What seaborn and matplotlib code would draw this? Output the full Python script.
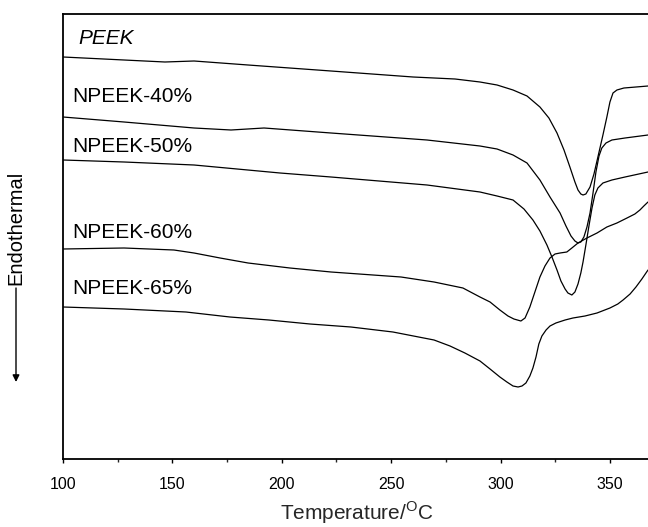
import numpy as np
import pandas as pd
import matplotlib
matplotlib.use("Agg")
import matplotlib.pyplot as plt
import seaborn as sns
from matplotlib.ticker import MultipleLocator

# ---- data (temperature in degC, heat flow in arbitrary offset units) ----
peek_T = [100.0, 127.9, 146.6, 159.9, 184.6, 222.5, 260.0, 279.2, 290.6, 298.4, 305.7,
          312.1, 318.0, 322.1, 325.8, 329.0, 331.7, 334.0, 335.4, 336.7, 337.7, 339.0,
          340.9, 342.7, 344.5, 346.8, 348.6, 350.0, 351.4, 353.2, 356.4, 367.4]
peek_y = [40.2, 39.9, 39.7, 39.8, 39.4, 38.8, 38.2, 38.0, 37.7, 37.4, 36.9,
          36.3, 35.2, 34.1, 32.6, 30.9, 29.2, 27.7, 26.9, 26.5, 26.4, 26.5,
          27.2, 28.5, 30.2, 32.4, 34.2, 35.7, 36.6, 36.9, 37.1, 37.3]

np40_T = [100.0, 127.9, 159.9, 176.8, 191.9, 222.5, 266.4, 290.6, 298.4, 305.7, 312.1,
          318.0, 322.6, 327.2, 329.9, 332.2, 334.0, 335.4, 336.7, 338.1, 339.5, 340.9,
          342.2, 343.6, 345.0, 346.3, 348.2, 350.9, 356.9, 367.4]
np40_y = [34.2, 33.7, 33.1, 32.9, 33.1, 32.6, 31.9, 31.3, 31.0, 30.4, 29.6,
          27.9, 26.2, 24.6, 23.3, 22.3, 21.8, 21.6, 21.7, 22.2, 23.2, 24.6,
          26.5, 28.7, 30.3, 31.1, 31.6, 31.9, 32.1, 32.4]

np50_T = [100.0, 127.9, 159.9, 199.2, 222.5, 266.4, 290.6, 298.4, 305.7, 310.7, 314.8,
          318.0, 321.2, 323.5, 325.8, 327.6, 329.5, 330.8, 332.6, 334.0, 335.4, 336.7,
          337.7, 339.0, 340.4, 341.8, 343.1, 344.5, 346.8, 350.9, 356.9, 367.4]
np50_y = [29.9, 29.7, 29.4, 28.6, 28.2, 27.4, 26.7, 26.3, 25.9, 25.0, 23.9,
          22.8, 21.4, 20.2, 18.9, 17.8, 17.0, 16.6, 16.4, 16.7, 17.5, 18.6,
          19.7, 21.4, 23.3, 25.1, 26.4, 27.1, 27.6, 27.9, 28.2, 28.7]

np60_T = [100.0, 127.9, 150.7, 159.9, 171.8, 184.6, 203.7, 222.5, 254.5, 269.6, 282.8,
          290.6, 295.2, 299.7, 303.4, 306.1, 309.3, 311.2, 313.4, 315.7, 318.0, 320.3,
          322.6, 324.9, 327.2, 330.3, 332.6, 335.4, 339.5, 344.1, 348.6, 353.2, 357.8,
          361.4, 363.7, 365.5, 367.4]
np60_y = [21.0, 21.1, 20.9, 20.6, 20.1, 19.6, 19.1, 18.7, 18.2, 17.7, 17.1,
          16.2, 15.7, 14.9, 14.3, 14.0, 13.8, 14.1, 15.2, 16.7, 18.2, 19.3,
          20.1, 20.5, 20.6, 20.7, 21.1, 21.6, 22.1, 22.6, 23.2, 23.6, 24.1,
          24.5, 24.9, 25.3, 25.7]

np65_T = [100.0, 127.9, 156.2, 176.3, 194.1, 212.9, 231.6, 250.8, 269.6, 276.9, 283.7,
          290.6, 295.2, 299.7, 302.9, 305.7, 308.0, 309.8, 311.6, 313.4, 314.8, 316.2,
          317.5, 318.9, 320.8, 322.6, 325.3, 329.5, 333.1, 338.6, 344.1, 350.0, 353.6,
          356.0, 359.2, 361.9, 364.6, 367.4]
np65_y = [15.2, 15.0, 14.7, 14.2, 13.9, 13.5, 13.2, 12.7, 11.9, 11.3, 10.6,
          9.8, 9.0, 8.2, 7.7, 7.3, 7.2, 7.3, 7.6, 8.3, 9.1, 10.2,
          11.5, 12.3, 12.9, 13.3, 13.6, 13.9, 14.1, 14.3, 14.6, 15.1, 15.5,
          15.9, 16.5, 17.2, 18.0, 18.9]

series_names = ["PEEK", "NPEEK-40%", "NPEEK-50%", "NPEEK-60%", "NPEEK-65%"]
x_ticks = [100, 150, 200, 250, 300, 350]

frames = []
for name, T, y in zip(series_names,
                      [peek_T, np40_T, np50_T, np60_T, np65_T],
                      [peek_y, np40_y, np50_y, np60_y, np65_y]):
    frames.append(pd.DataFrame({"Temperature": T, "Heat": y, "Sample": name}))
df = pd.concat(frames, ignore_index=True)

# ---- style ----
sns.set_theme(style="ticks")
plt.rcParams["font.family"] = ["Liberation Sans", "DejaVu Sans"]
plt.rcParams["mathtext.fontset"] = "custom"
plt.rcParams["mathtext.rm"] = "Liberation Sans"

W, H = 648, 527
fig = plt.figure(figsize=(W / 100, H / 100), dpi=100)
ax = fig.add_axes([63 / W, 1 - 459 / H, 1 - 63 / W, (459 - 14) / H])

sns.lineplot(data=df, x="Temperature", y="Heat", hue="Sample", units="Sample",
             estimator=None, sort=False, palette=["black"] * 5, linewidth=0.9,
             legend=False, ax=ax)

ax.set_xlim(100, 367.4)
ax.set_ylim(0, 44.5)
ax.set_yticks([])
ax.set_ylabel("")
ax.set_xticks(x_ticks)
ax.xaxis.set_minor_locator(MultipleLocator(25))
ax.tick_params(axis="x", which="major", direction="out", length=3, width=1.0,
               labelsize=11.5, pad=10, colors="black")
ax.tick_params(axis="x", which="minor", direction="out", length=2.5, width=1.0)

for s in ["left", "top", "bottom"]:
    ax.spines[s].set_linewidth(1.3)
    ax.spines[s].set_color("black")
ax.spines["right"].set_visible(False)

ax.set_xlabel(r"Temperature/$^{\mathregular{O}}$C", fontsize=15, va="center")
ax.xaxis.set_label_coords(0.503, -(513 - 459) / 445)

# curve labels
label_pos = {"PEEK": (106.9, 42.1), "NPEEK-40%": (104.1, 36.2), "NPEEK-50%": (104.1, 31.2),
             "NPEEK-60%": (104.1, 22.6), "NPEEK-65%": (104.1, 17.1)}
for name in series_names:
    x, y = label_pos[name]
    ax.text(x, y, name, fontsize=15, va="center", ha="left",
            style="italic" if name == "PEEK" else "normal", color="black")

# y label with downward arrow
fig.text(16 / W, 1 - 228 / H, "Endothermal", rotation=90, fontsize=14.5,
         ha="center", va="center", color="black")
ax.annotate("", xy=(16 / W, 1 - 382 / H), xytext=(16 / W, 1 - 288 / H),
            xycoords="figure fraction", textcoords="figure fraction",
            arrowprops=dict(arrowstyle="-|>", color="black", lw=1.0,
                            mutation_scale=10, shrinkA=0, shrinkB=0))

fig.savefig("out.png", dpi=100)
